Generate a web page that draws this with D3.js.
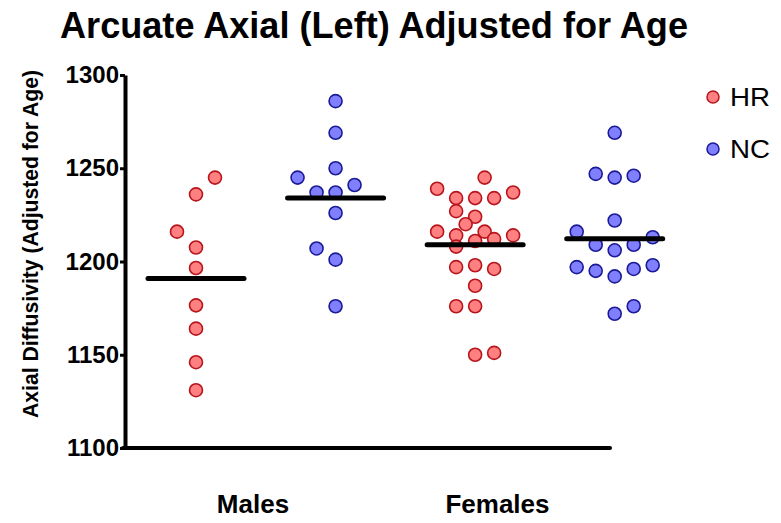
<!DOCTYPE html>
<html><head><meta charset="utf-8">
<script src="https://cdn.jsdelivr.net/npm/d3@7"></script>
<style>body{margin:0;background:#fff} text{font-family:"Liberation Sans",Arial,sans-serif}</style>
</head><body><svg id="c" width="781" height="523"></svg>
<script>
// ---- data ----
const categories = ["Males", "Females"];
const seriesNames = ["HR", "NC"];
const groupSeries = ["HR", "NC", "HR", "NC"];
const yTicks = [1100, 1150, 1200, 1250, 1300];

const malesHR    = [1245, 1236, 1216, 1207.5, 1196.5, 1176.5, 1164, 1146, 1131];
const malesHRCol = [1, 0, -1, 0, 0, 0, 0, 0, 0];

const malesNC    = [1286, 1269, 1250, 1245, 1241, 1237, 1237, 1226, 1207, 1201, 1176];
const malesNCCol = [0, 0, 0, -2, 1, -1, 0, 0, -1, 0, 0];

const femalesHR    = [1245, 1239, 1234, 1234, 1234, 1237, 1227, 1224, 1220, 1216, 1214, 1216, 1214, 1211, 1212, 1208, 1197, 1198, 1196, 1187, 1176, 1176, 1150, 1151];
const femalesHRCol = [0.5, -2, -1, 0, 1, 2, -1, 0, -0.5, -2, -1, 0.5, 2, 0, 1, -1, -1, 0, 1, 0, -1, 0, 0, 1];

const femalesNC    = [1269, 1247, 1245, 1246, 1222, 1216, 1213, 1209, 1206, 1209, 1197, 1195, 1192, 1196, 1198, 1172, 1176];
const femalesNCCol = [0, -1, 0, 1, 0, -2, 2, -1, 0, 1, -2, -1, 0, 1, 2, 0, 1];

const groupValues = [malesHR, malesNC, femalesHR, femalesNC];
const groupCols = [malesHRCol, malesNCCol, femalesHRCol, femalesNCCol];

// ---- styles ----
const fills = {HR: "#ff8080", NC: "#8080ff"};
const strokes = {HR: "#b8141c", NC: "#1a1a96"};

const svg = d3.select("#c");
const y = d3.scaleLinear().domain([1100, 1300]).range([448, 75]);
const x = d3.scaleLinear().domain([0, 3]).range([196, 614.7]);
const col = d3.scaleLinear().domain([-1, 1]).range([-19, 19]);
const labelX = d3.scalePoint().domain(categories).range([253, 497.5]);

// title
svg.append("text").attr("x", 374).attr("y", 38).attr("text-anchor", "middle")
  .attr("font-size", 36).attr("font-weight", "bold").attr("textLength", 628)
  .attr("lengthAdjust", "spacingAndGlyphs")
  .text("Arcuate Axial (Left) Adjusted for Age");

// y axis
const axisX = 125;
const yAxis = svg.append("g").attr("transform", `translate(${axisX},0)`)
  .call(d3.axisLeft(y).tickValues(yTicks).tickSize(5).tickSizeOuter(0).tickPadding(1).tickFormat(d3.format("d")));
yAxis.select(".domain").attr("stroke", "#000").attr("stroke-width", 4);
yAxis.selectAll(".tick line").attr("stroke", "#000").attr("stroke-width", 3);
yAxis.selectAll(".tick text").attr("font-size", 24).attr("font-weight", "bold").attr("fill", "#000")
  .attr("font-family", "Liberation Sans, Arial, sans-serif");

// x axis line
svg.append("line").attr("x1", axisX - 2).attr("x2", 610).attr("y1", y(1100)).attr("y2", y(1100))
  .attr("stroke", "#000").attr("stroke-width", 4).attr("stroke-linecap", "round");

// category labels
svg.selectAll("text.cat").data(categories).join("text").attr("class", "cat")
  .attr("x", d => labelX(d)).attr("y", 513).attr("text-anchor", "middle")
  .attr("font-size", 26).attr("font-weight", "bold").text(d => d);

// y title
svg.append("text").attr("transform", `translate(38,244) rotate(-90)`).attr("text-anchor", "middle")
  .attr("font-size", 22).attr("font-weight", "bold").attr("textLength", 348)
  .attr("lengthAdjust", "spacingAndGlyphs")
  .text("Axial Diffusivity (Adjusted for Age)");

// points
groupValues.forEach((vals, gi) => {
  const s = groupSeries[gi];
  svg.append("g").selectAll("circle").data(vals).join("circle")
    .attr("cx", (d, i) => x(gi) + col(groupCols[gi][i]))
    .attr("cy", d => y(d))
    .attr("r", 6.5)
    .attr("fill", fills[s]).attr("stroke", strokes[s]).attr("stroke-width", 1.6);
});

// mean lines
groupValues.forEach((vals, gi) => {
  const m = d3.mean(vals);
  svg.append("line").attr("x1", x(gi) - 48).attr("x2", x(gi) + 48)
    .attr("y1", y(m)).attr("y2", y(m)).attr("stroke", "#000").attr("stroke-width", 5)
    .attr("stroke-linecap", "round");
});

// legend
const leg = svg.selectAll("g.leg").data(seriesNames).join("g").attr("class", "leg")
  .attr("transform", (d, i) => `translate(713,${97 + i * 52})`);
leg.append("circle").attr("r", 6).attr("fill", d => fills[d]).attr("stroke", d => strokes[d]).attr("stroke-width", 1.5);
leg.append("text").attr("x", 17).attr("y", 9).attr("font-size", 25).attr("textLength", 40)
  .attr("lengthAdjust", "spacingAndGlyphs").text(d => d);
</script>
</body></html>
